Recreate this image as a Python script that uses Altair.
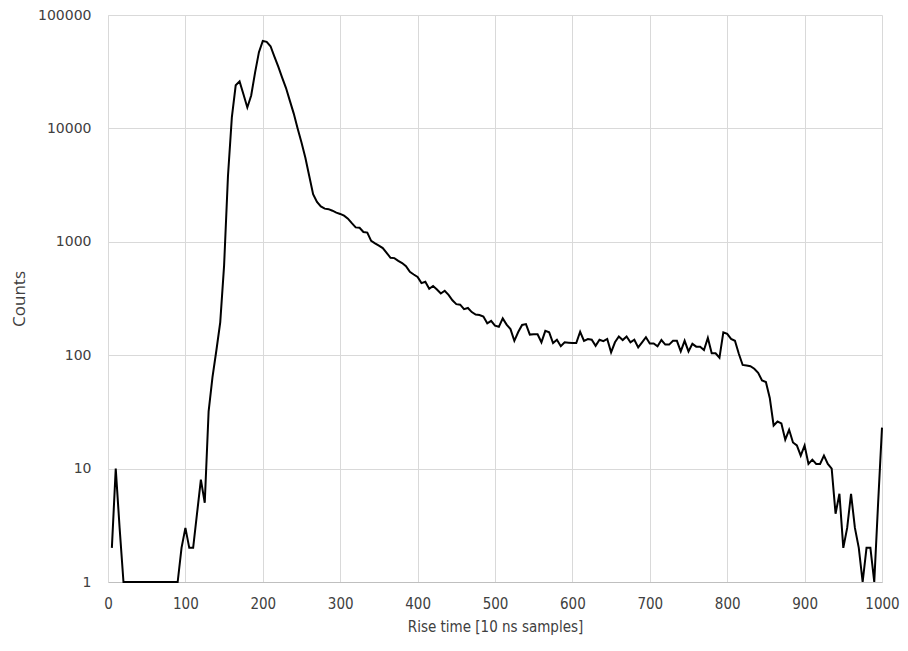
import altair as alt
import pandas as pd

rise_time = list(range(5, 1001, 5))

counts = [
    2, 10, 3, 1, 1, 1, 1, 1, 1, 1,            # 5-50
    1, 1, 1, 1, 1, 1, 1, 1, 2, 3,             # 55-100
    2, 2, 4, 8, 5, 32, 64, 110, 195, 620,     # 105-150
    3800, 12500, 24000, 26000, 20000, 15300, 19500, 31000, 47000, 59000,  # 155-200
    58000, 53000, 43000, 35000, 28000, 22700, 17500, 13500, 10000, 7500,  # 205-250
    5500, 3800, 2630, 2250, 2050, 1960, 1940, 1880, 1810, 1760,           # 255-300
    1700, 1600, 1460, 1340, 1330, 1220, 1205, 1020, 970, 925,             # 305-350
    880, 800, 722, 718, 680, 650, 610, 543, 515, 490,                     # 355-400
    432, 444, 385, 408, 380, 350, 370, 340, 305, 282,                     # 405-450
    279, 255, 261, 240, 228, 226, 219, 191, 201, 182,                     # 455-500
    178, 211, 186, 170, 134, 160, 185, 188, 152, 153,                     # 505-550
    153, 130, 164, 159, 128, 137, 120, 130, 129, 128,                     # 555-600
    128, 161, 134, 139, 137, 121, 137, 133, 139, 106,                     # 605-650
    130, 146, 136, 146, 130, 137, 117, 130, 144, 127,                     # 655-700
    127, 120, 136, 124, 124, 134, 134, 108, 134, 108,                     # 705-750
    126, 119, 119, 111, 142, 104, 104, 95, 159, 154,                      # 755-800
    139, 134, 103, 82, 81, 80, 76, 70, 60, 58,                            # 805-850
    42, 24, 26, 25, 18, 22, 17, 16, 13, 16,                               # 855-900
    11, 12, 11, 11, 13, 11, 10, 4, 6, 2,                                  # 905-950
    3, 6, 3, 2, 1, 2, 2, 1, 5, 23,                                        # 955-1000
]

x_ticks = list(range(0, 1001, 100))
y_ticks = [1, 10, 100, 1000, 10000, 100000]

df = pd.DataFrame({"rise": rise_time, "counts": counts})

narrow = "Liberation Sans Narrow, DejaVu Sans Condensed, Liberation Sans"

chart = (
    alt.Chart(df)
    .mark_line(color="black", strokeWidth=2)
    .encode(
        x=alt.X(
            "rise:Q",
            scale=alt.Scale(domain=[0, 1000], nice=False, zero=False),
            axis=alt.Axis(
                values=x_ticks,
                title="Rise time [10 ns samples]",
                format="d",
                grid=True,
                gridColor="#d9d9d9",
                ticks=False,
                domainColor="#bfbfbf",
                labelFlush=False,
                labelFont=narrow,
                labelFontSize=15,
                labelColor="#404040",
                labelPadding=14,
                titleFont=narrow,
                titleFontSize=15,
                titleFontWeight="normal",
                titleColor="#404040",
                titlePadding=8,
            ),
        ),
        y=alt.Y(
            "counts:Q",
            scale=alt.Scale(type="log", domain=[1, 100000], nice=False),
            axis=alt.Axis(
                values=y_ticks,
                title="Counts",
                format="d",
                grid=True,
                gridColor="#d9d9d9",
                ticks=False,
                domainColor="#d9d9d9",
                labelFlush=False,
                labelFont="DejaVu Sans",
                labelFontSize=14,
                labelColor="#404040",
                labelPadding=17,
                titleFont="Open Sans",
                titleFontSize=17,
                titleFontWeight="normal",
                titleColor="#404040",
                titleX=-80,
            ),
        ),
    )
    .properties(
        width=774,
        height=567,
        autosize=alt.AutoSizeParams(type="none"),
        padding={"left": 100, "top": 7, "right": 18, "bottom": 60},
    )
    .configure_view(stroke=None)
)

chart.save("out.html", embed_options={"renderer": "svg", "actions": False})
